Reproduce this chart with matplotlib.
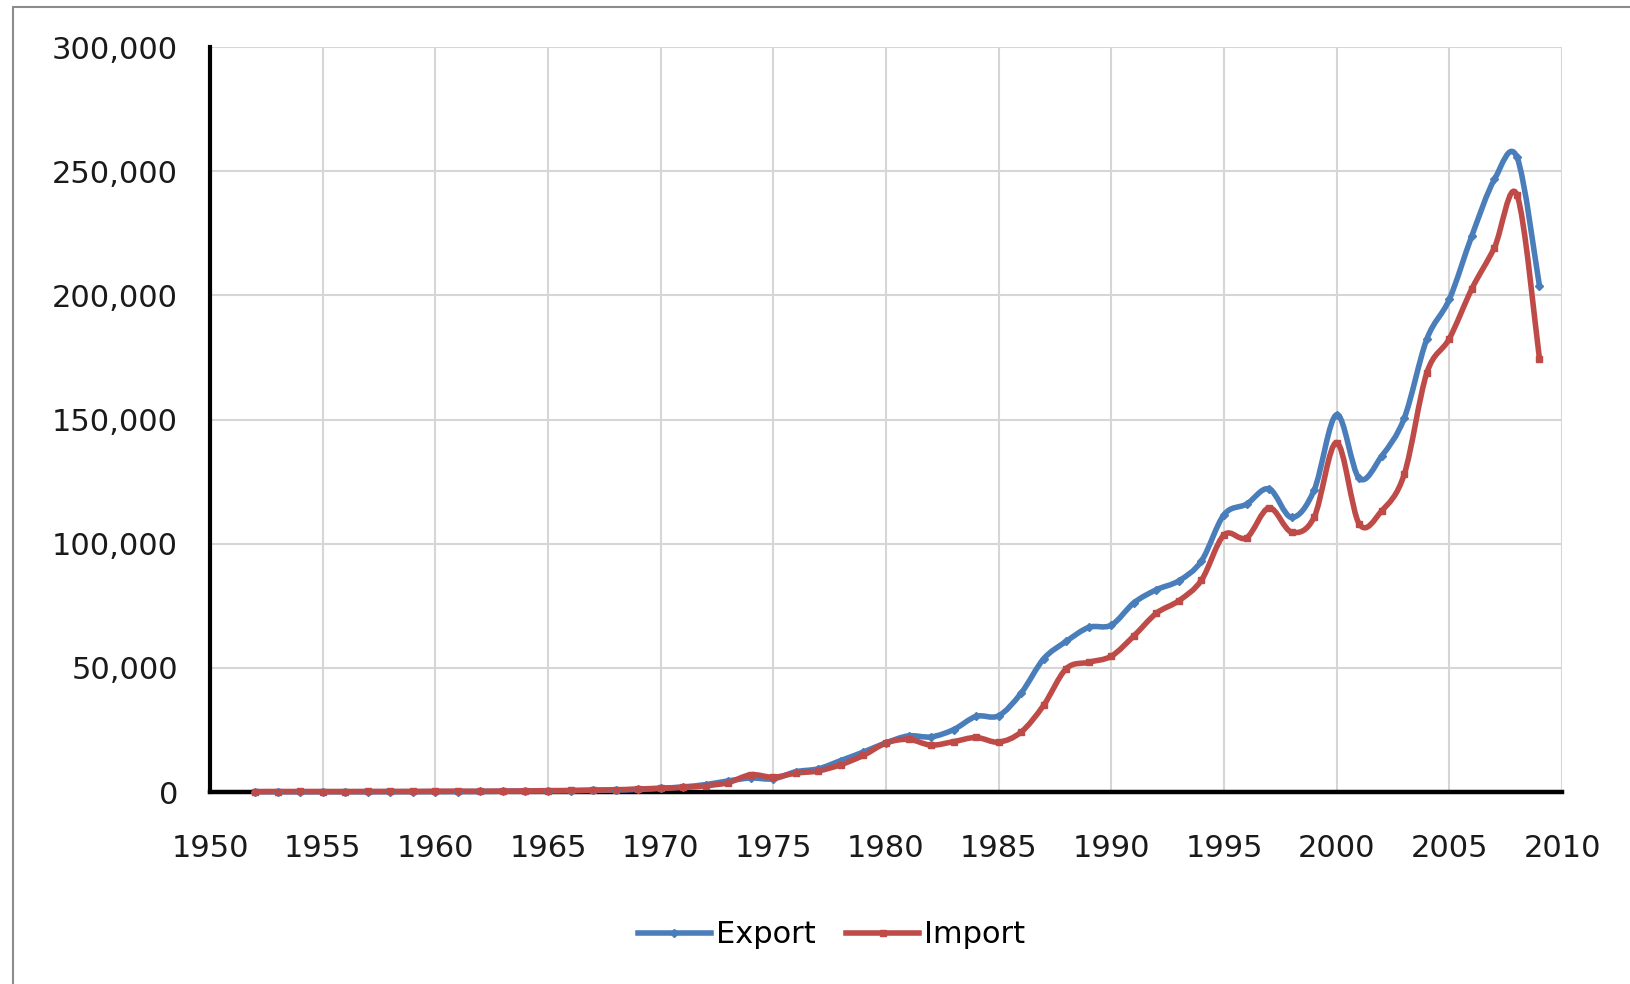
import matplotlib
matplotlib.use('Agg')
import matplotlib.pyplot as plt
import numpy as np
from matplotlib.path import Path
from matplotlib.patches import PathPatch, Rectangle
from matplotlib.lines import Line2D
from matplotlib.ticker import FuncFormatter

plt.rcParams['font.family'] = ['DejaVu Sans']

years = list(range(1952, 2010))
export = [116, 128, 93, 123, 118, 148, 156, 157, 164, 195,
          218, 332, 433, 450, 536, 641, 789, 1049, 1481, 2060,
          2988, 4483, 5639, 5309, 8166, 9361, 12687, 16103, 19811, 22611,
          22204, 25123, 30456, 30726, 39862, 53679, 60667, 66304, 67214, 76178,
          81470, 85091, 93049, 111659, 115942, 122081, 110582, 121591, 151950, 126314,
          135317, 150600, 182370, 198432, 224017, 246677, 255629, 203675]
imports = [187, 192, 211, 201, 194, 212, 226, 231, 297, 322,
           304, 362, 428, 556, 622, 806, 903, 1213, 1524, 1844,
           2514, 3792, 6966, 5952, 7599, 8511, 11027, 14774, 19733, 21200,
           18888, 20287, 21959, 20102, 24181, 34983, 49673, 52265, 54716, 62861,
           72007, 77061, 85349, 103550, 102370, 114425, 104665, 110690, 140732, 107971,
           113245, 128010, 168758, 182614, 202698, 219252, 240448, 174371]

x_ticks = list(range(1950, 2011, 5))
y_ticks = list(range(0, 300001, 50000))

c_exp = '#4A7EBB'
c_imp = '#BE4B48'


def smooth_path(x, y):
    # excel-like smoothed line: catmull-rom segments as cubic beziers
    x = np.asarray(x, float)
    y = np.asarray(y, float)
    pts = np.column_stack([x, y])
    n = len(pts)
    verts = [pts[0]]
    codes = [Path.MOVETO]
    for i in range(n - 1):
        p0 = pts[i - 1] if i > 0 else pts[i]
        p1 = pts[i]
        p2 = pts[i + 1]
        p3 = pts[i + 2] if i + 2 < n else pts[i + 1]
        c1 = p1 + (p2 - p0) / 6.0
        c2 = p2 - (p3 - p1) / 6.0
        verts += [c1, c2, p2]
        codes += [Path.CURVE4] * 3
    return Path(verts, codes)


fig = plt.figure(figsize=(16.3, 9.84), dpi=100)
ax = fig.add_axes([0.1288, 0.1951, 0.9583 - 0.1288, 0.9522 - 0.1951])

for yy, col, mk in [(export, c_exp, 'D'), (imports, c_imp, 's')]:
    patch = PathPatch(smooth_path(years, yy), facecolor='none', edgecolor=col,
                      lw=4, capstyle='round', joinstyle='round', zorder=4, clip_on=False)
    ax.add_patch(patch)
    ax.plot(years, yy, ls='none', marker=mk, ms=4, color=col, zorder=5, clip_on=False)

ax.set_xlim(1950, 2010)
ax.set_ylim(0, 300000)
ax.set_xticks(x_ticks)
ax.set_yticks(y_ticks)
ax.yaxis.set_major_formatter(FuncFormatter(lambda v, p: '{:,.0f}'.format(v)))
ax.tick_params(length=0, labelsize=22, colors='#1a1a1a')
ax.tick_params(axis='y', pad=23)
ax.tick_params(axis='x', pad=30)
ax.grid(True, color='#D6D6D6', lw=1.5)
ax.set_axisbelow(True)

for s in ['top', 'right']:
    ax.spines[s].set_visible(False)
ax.spines['left'].set_linewidth(3)
ax.spines['bottom'].set_linewidth(3.2)
ax.spines['left'].set_color('black')
ax.spines['bottom'].set_color('black')

handles = [Line2D([], [], color=c_exp, lw=4, marker='D', ms=4),
           Line2D([], [], color=c_imp, lw=4, marker='s', ms=4)]
fig.legend(handles, ['Export', 'Import'], loc='center', bbox_to_anchor=(0.51, 0.05),
           ncol=2, frameon=False, fontsize=22, handlelength=2.4, handletextpad=0.15,
           columnspacing=1.0)

# outer chart border (only left and top edges are in frame)
fig.patches.append(Rectangle((13 / 1630, -0.1), 1.2, 1 - 7 / 984 + 0.1,
                             transform=fig.transFigure, fill=False,
                             edgecolor='#8C8C8C', lw=1.5))

fig.savefig('out.png', dpi=100, facecolor='white')
